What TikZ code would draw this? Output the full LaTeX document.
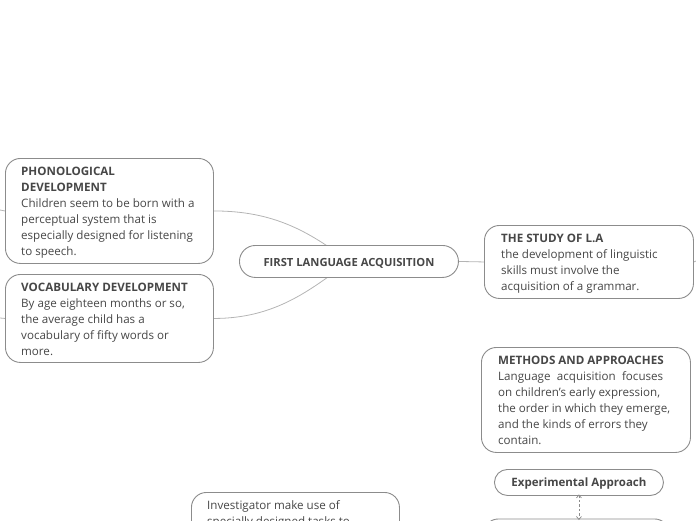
\documentclass[tikz,border=0pt]{standalone}
\usepackage{fontspec}
\setmainfont{Open Sans}
\usetikzlibrary{backgrounds,arrows.meta}
\definecolor{txtc}{HTML}{474747}
\definecolor{brd}{HTML}{8C8C8C}
\definecolor{lnk}{HTML}{B4B4B4}
\tikzset{
  box/.style={draw=brd, line width=0.9pt, fill=white, rounded corners=15pt, inner sep=0pt, anchor=north west},
  pill/.style={draw=brd, line width=0.9pt, fill=white, rounded corners=13pt, inner sep=0pt},
  txt/.style={inner sep=0pt, anchor=north west, align=left, text=txtc, font=\fontsize{11.6}{16}\selectfont},
  link/.style={draw=lnk, line width=0.8pt},
}
\begin{document}
\begin{tikzpicture}[x=1pt,y=-1pt]
\useasboundingbox (0,0) rectangle (696,520);
\clip (0,0) rectangle (696,520);
% boxes
\node[box, minimum width=208pt, minimum height=105pt] (phon) at (5,158) {};
\node[txt] (phont) at (21,166.5) {\textbf{PHONOLOGICAL}\\\textbf{DEVELOPMENT}\\Children seem to be born with a\\perceptual system that is\\especially designed for listening\\to speech.};
\node[box, minimum width=208pt, minimum height=88pt] (voc) at (5,274) {};
\node[txt] (voct) at (21,282.5) {\textbf{VOCABULARY DEVELOPMENT}\\By age eighteen months or so,\\the average child has a\\vocabulary of fifty words or\\more.};
\node[box, minimum width=209pt, minimum height=73pt] (study) at (484,225) {};
\node[txt] (studyt) at (501,233.5) {\textbf{THE STUDY OF L.A}\\the development of linguistic\\skills must involve the\\acquisition of a grammar.};
\node[box, minimum width=209pt, minimum height=105pt] (meth) at (481,347) {};
\node[txt] (metht) at (498,355.5) {\textbf{METHODS AND APPROACHES}\\\hbox to 165pt{Language\hfil acquisition\hfil focuses}\\on children’s early expression,\\the order in which they emerge,\\and the kinds of errors they\\contain.};
\node[pill, minimum width=169pt, minimum height=26pt, anchor=north west] (exp) at (494,469) {};
\node[inner sep=0pt, text=txtc, font=\bfseries\fontsize{11.5}{14}\selectfont] (expt) at ([yshift=-1.5pt]exp.center) {Experimental Approach};
\node[box, minimum width=186pt, minimum height=80pt] (bot) at (483,518.5) {};
\node[box, minimum width=208pt, minimum height=80pt] (inv) at (191,492) {};
\node[txt] (invt) at (207,500.5) {Investigator make use of\\specially designed tasks to};
\node[pill, minimum width=219pt, minimum height=32pt, rounded corners=16pt, anchor=north west] (root) at (239,245) {};
\node[inner sep=0pt, text=txtc, font=\bfseries\fontsize{11.2}{13}\selectfont] (roott) at ([yshift=-1.5pt]root.center) {FIRST LANGUAGE ACQUISITION};
% off-canvas ends
\coordinate (l1) at (0,210);
\coordinate (l2) at (0,318);
\coordinate (r1) at (696,261);
\begin{scope}[on background layer]
\draw[link] (phon.east) .. controls +(60,0) and +(-40,-30) .. (root.center);
\draw[link] (voc.east) .. controls +(60,0) and +(-40,30) .. (root.center);
\draw[link] (root.east) -- (study.west);
\draw[link] (l1) -- (phon.west);
\draw[link] (l2) -- (voc.west);
\draw[link] (study.east) -- (r1);
\end{scope}
\coordinate (ea) at ([yshift=1.5pt]exp.south);
\coordinate (eb) at ([yshift=-1.5pt]exp.south |- bot.north);
\draw[draw=brd, line width=0.7pt, dash pattern=on 2.5pt off 2pt, {Straight Barb[length=3pt,width=5pt]}-{Straight Barb[length=3pt,width=5pt]}] (ea) -- (eb);
\end{tikzpicture}
\end{document}
